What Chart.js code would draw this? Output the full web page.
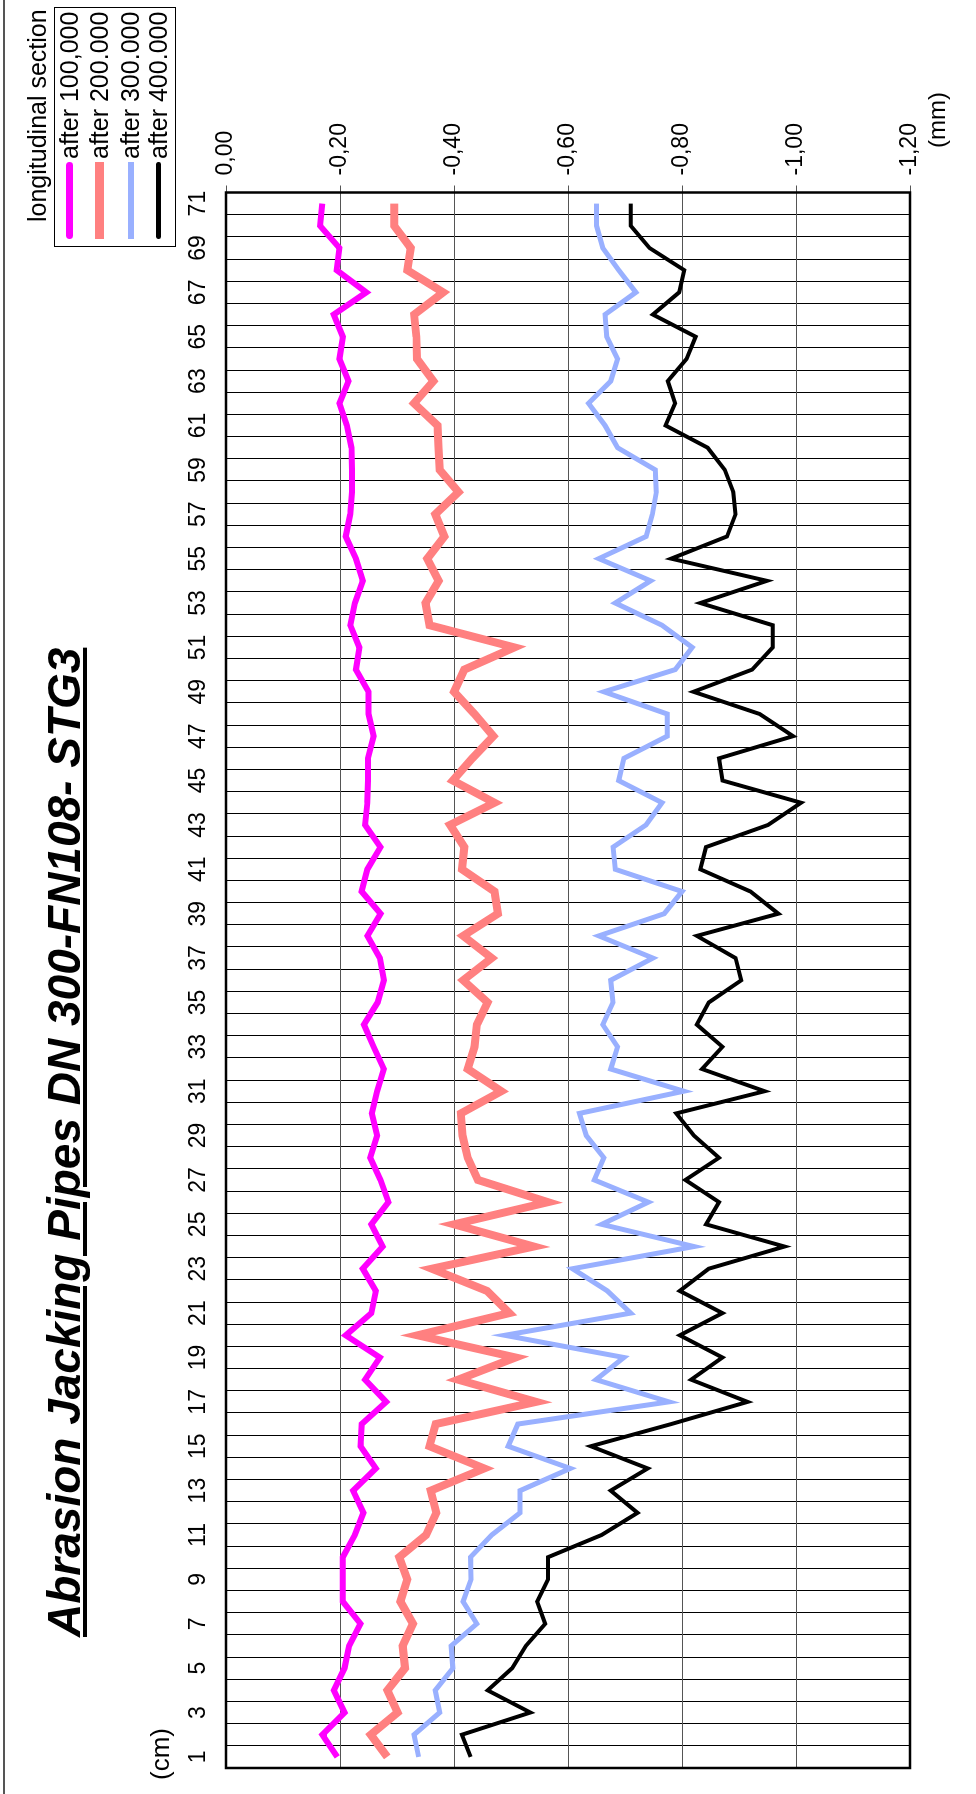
<!DOCTYPE html>
<html>
<head>
<meta charset="utf-8">
<script src="https://cdn.jsdelivr.net/npm/chart.js@4.4.1/dist/chart.umd.min.js"></script>
<style>
    html, body { margin: 0; padding: 0; background: #fff; }
    body { width: 976px; height: 1794px; overflow: hidden; position: relative; }
    /* the chart is laid out landscape, then turned a quarter to the left */
    #sheet {
        position: absolute; left: 0; top: 0; width: 1794px; height: 976px;
        transform-origin: 0 0; transform: translate(0, 1794px) rotate(-90deg);
        font-family: "Liberation Sans", Arial, sans-serif; color: #000;
    }
    #sheet canvas { position: absolute; left: 0; top: 0; }
    .frameLine { position: absolute; left: 0; top: 3px; width: 1794px; height: 2px; background: #555; }
    .title {
        position: absolute; left: 157px; top: 41px; white-space: nowrap;
        font-size: 46px; line-height: 46px; font-weight: bold; font-style: italic;
        text-decoration: underline; text-decoration-thickness: 4px; text-underline-offset: 3px;
    }
    .unit { position: absolute; white-space: nowrap; }
    .legTitle { position: absolute; left: 1572px; top: 25px; font-size: 25px; line-height: 25px; white-space: nowrap; }
    .legend { position: absolute; left: 1547px; top: 54px; width: 238px; height: 120px; border: 1px solid #000; background: #fff; }
    .legend .row { position: absolute; left: 0; height: 30px; line-height: 30px; font-size: 25px; white-space: nowrap; }
    .legend .sw { position: absolute; left: 7px; width: 77px; }
    .legend .txt { position: absolute; left: 87px; top: 0; }
</style>
</head>
<body>
<div id="sheet">
    <canvas id="chart" width="1794" height="976"></canvas>
    <div class="frameLine"></div>
    <div class="title">Abrasion Jacking Pipes DN 300-FN108- STG3</div>
    <div class="unit" style="left:14px;top:147px;font-size:26px;line-height:26px;">(cm)</div>
    <div class="unit" style="left:1646px;top:925px;font-size:24px;line-height:24px;">(mm)</div>
    <div class="legTitle">longitudinal section</div>
    <div class="legend" id="legend"></div>
</div>

<script>
// positions along the pipe (cm)
const positions = ['1','2','3','4','5','6','7','8','9','10','11','12','13','14','15','16','17','18','19','20',
    '21','22','23','24','25','26','27','28','29','30','31','32','33','34','35','36','37','38','39','40',
    '41','42','43','44','45','46','47','48','49','50','51','52','53','54','55','56','57','58','59','60',
    '61','62','63','64','65','66','67','68','69','70','71'];

// abrasion depth (mm)
const after100 = [-0.195,-0.169,-0.208,-0.189,-0.208,-0.216,-0.236,-0.205,-0.205,-0.205,
    -0.226,-0.241,-0.223,-0.263,-0.236,-0.238,-0.281,-0.244,-0.270,-0.210,
    -0.255,-0.263,-0.240,-0.275,-0.255,-0.285,-0.271,-0.253,-0.265,-0.256,
    -0.265,-0.277,-0.259,-0.242,-0.266,-0.277,-0.270,-0.248,-0.271,-0.238,
    -0.248,-0.271,-0.244,-0.248,-0.249,-0.249,-0.259,-0.250,-0.250,-0.228,
    -0.234,-0.218,-0.226,-0.240,-0.228,-0.210,-0.218,-0.221,-0.221,-0.220,
    -0.212,-0.199,-0.215,-0.199,-0.205,-0.189,-0.246,-0.194,-0.199,-0.165,-0.169];

const after200 = [-0.283,-0.254,-0.301,-0.283,-0.314,-0.310,-0.328,-0.306,-0.318,-0.304,
    -0.351,-0.369,-0.359,-0.453,-0.357,-0.368,-0.544,-0.407,-0.508,-0.336,
    -0.497,-0.458,-0.361,-0.540,-0.400,-0.565,-0.442,-0.424,-0.415,-0.412,
    -0.483,-0.424,-0.436,-0.440,-0.459,-0.416,-0.466,-0.416,-0.477,-0.471,
    -0.414,-0.418,-0.393,-0.471,-0.398,-0.432,-0.469,-0.436,-0.400,-0.418,
    -0.506,-0.357,-0.350,-0.373,-0.353,-0.383,-0.367,-0.408,-0.375,-0.373,
    -0.371,-0.330,-0.364,-0.335,-0.334,-0.330,-0.381,-0.318,-0.324,-0.295,-0.295];

const after300 = [-0.338,-0.330,-0.375,-0.367,-0.398,-0.395,-0.440,-0.416,-0.430,-0.429,
    -0.466,-0.516,-0.516,-0.604,-0.495,-0.512,-0.777,-0.649,-0.698,-0.489,
    -0.710,-0.669,-0.608,-0.821,-0.659,-0.741,-0.646,-0.663,-0.632,-0.620,
    -0.803,-0.675,-0.687,-0.661,-0.679,-0.675,-0.749,-0.654,-0.769,-0.800,
    -0.683,-0.679,-0.737,-0.765,-0.689,-0.698,-0.774,-0.774,-0.663,-0.788,
    -0.818,-0.765,-0.683,-0.745,-0.654,-0.737,-0.748,-0.755,-0.753,-0.687,
    -0.665,-0.636,-0.675,-0.687,-0.668,-0.665,-0.719,-0.689,-0.661,-0.650,-0.650];

const after400 = [-0.429,-0.414,-0.534,-0.459,-0.502,-0.526,-0.560,-0.546,-0.565,-0.565,
    -0.659,-0.722,-0.675,-0.740,-0.640,-0.781,-0.915,-0.816,-0.871,-0.796,
    -0.871,-0.796,-0.847,-0.980,-0.842,-0.865,-0.806,-0.865,-0.821,-0.790,
    -0.945,-0.835,-0.871,-0.826,-0.847,-0.904,-0.894,-0.826,-0.969,-0.920,
    -0.832,-0.842,-0.951,-1.009,-0.871,-0.865,-0.995,-0.936,-0.820,-0.923,
    -0.959,-0.959,-0.832,-0.949,-0.781,-0.879,-0.894,-0.890,-0.875,-0.845,
    -0.771,-0.788,-0.775,-0.808,-0.824,-0.749,-0.795,-0.804,-0.743,-0.710,-0.710];

const seriesNames = ['after 100,000', 'after 200.000', 'after 300.000', 'after 400.000'];
const seriesColors = ['#ff00ff', '#ff8080', '#99b0ff', '#000000'];
const seriesWidths = [6, 8, 5, 4];

const FONT = '"Liberation Sans", Arial, sans-serif';
Chart.defaults.font.family = FONT;
Chart.defaults.color = '#000';

// plot box border, drawn all round like the spreadsheet original
const plotFrame = {
    id: 'plotFrame',
    afterDraw(chart) {
        const { ctx, chartArea: a } = chart;
        ctx.save();
        ctx.strokeStyle = '#000';
        ctx.lineWidth = 2.5;
        ctx.strokeRect(a.left, a.top, a.right - a.left, a.bottom - a.top);
        ctx.restore();
    }
};

const allSeries = [after100, after200, after300, after400];

new Chart(document.getElementById('chart'), {
    type: 'line',
    data: {
        labels: positions,
        datasets: allSeries.map((vals, i) => ({
            label: seriesNames[i],
            data: vals,
            borderColor: seriesColors[i],
            backgroundColor: seriesColors[i],
            borderWidth: seriesWidths[i],
            pointRadius: 0,
            tension: 0,
            fill: false
        }))
    },
    options: {
        responsive: false,
        animation: false,
        devicePixelRatio: 1,
        layout: { padding: { left: 26, top: 0, right: 0, bottom: 66 } },
        plugins: { legend: { display: false }, title: { display: false }, tooltip: { enabled: false } },
        scales: {
            x: {
                type: 'category',
                position: 'top',
                offset: true,
                grid: { offset: true, color: '#000', lineWidth: 1, drawTicks: false },
                border: { display: false },
                ticks: {
                    autoSkip: false, maxRotation: 0, minRotation: 0, padding: 14,
                    font: { size: 23 },
                    callback: function (v, i) { return i % 2 === 0 ? this.getLabelForValue(v) : ''; }
                },
                afterFit(scale) { scale.height = 226; }
            },
            y: {
                position: 'right',
                min: -1.2,
                max: 0,
                grid: { color: '#555', lineWidth: 1, tickLength: 7 },
                border: { display: false },
                ticks: {
                    stepSize: 0.2, padding: 10,
                    font: { size: 23 },
                    callback: v => (Math.abs(v) < 1e-9 ? 0 : v).toFixed(2).replace('.', ',')
                },
                afterFit(scale) { scale.width = 192.5; }
            }
        }
    },
    plugins: [plotFrame]
});

// legend box
const rowCentres = [14, 44, 75, 103];
document.getElementById('legend').innerHTML = seriesNames.map((name, i) => `
    <div class="row" style="top:${rowCentres[i] - 15}px">
        <span class="sw" style="top:${15 - seriesWidths[i] / 2}px;height:${seriesWidths[i] + 1}px;background:${seriesColors[i]};${i === 0 || i === 3 ? 'border-radius:4px;' : ''}"></span>
        <span class="txt">${name}</span>
    </div>`).join('');
</script>
</body>
</html>
